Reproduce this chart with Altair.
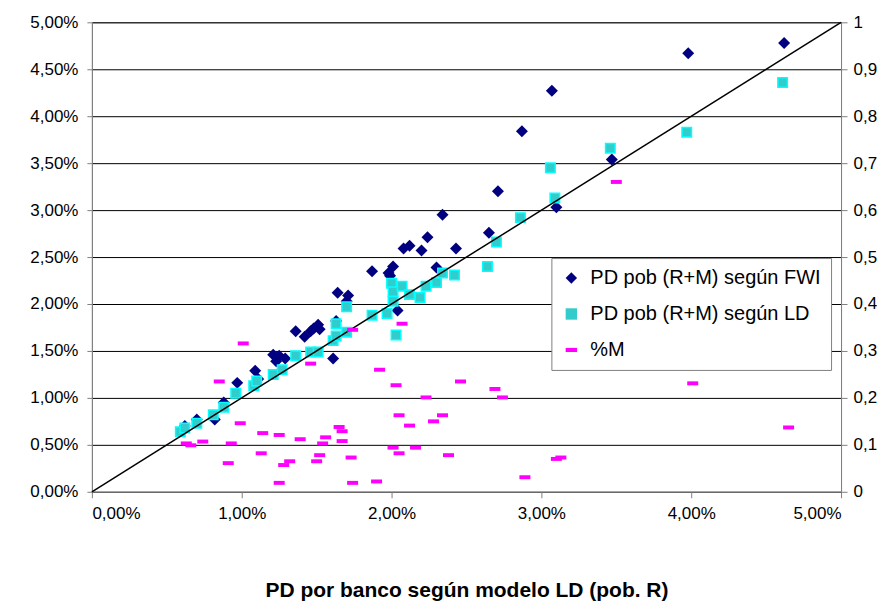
import altair as alt
import pandas as pd

# ---- data (x in %, left y in %, %M on 0..1 right axis) ----
fwi_x = [0.62, 0.70, 0.82, 0.88, 0.97, 1.09, 1.11, 1.21, 1.23, 1.25, 1.29, 1.36, 1.42, 1.46,
         1.48, 1.51, 1.52, 1.61, 1.63, 1.64, 1.71, 1.70, 1.87, 1.98, 2.01, 1.99, 2.04, 2.08,
         2.12, 2.20, 2.24, 2.34, 2.30, 2.43, 2.65, 2.71, 2.87, 3.07, 3.47, 3.10, 3.98, 4.62]
fwi_y = [0.70, 0.77, 0.77, 0.95, 1.16, 1.29, 1.20, 1.46, 1.39, 1.45, 1.42, 1.71, 1.65, 1.71,
         1.74, 1.78, 1.73, 1.42, 1.82, 2.12, 2.09, 2.03, 2.35, 2.33, 2.40, 2.30, 1.93, 2.59,
         2.62, 2.57, 2.71, 2.95, 2.39, 2.59, 2.76, 3.20, 3.84, 4.27, 3.54, 3.03, 4.67, 4.78]

ld_x = [0.59, 0.62, 0.70, 0.81, 0.88, 0.96, 1.08, 1.10, 1.21, 1.27, 1.36, 1.46, 1.51, 1.61,
        1.63, 1.70, 1.63, 1.70, 1.87, 1.97, 2.00, 2.01, 2.01, 2.07, 2.12, 2.19, 2.03, 2.23,
        2.30, 2.34, 2.42, 2.64, 2.70, 2.86, 3.06, 3.09, 3.46, 3.97, 4.61]
ld_y = [0.64, 0.68, 0.73, 0.82, 0.90, 1.05, 1.13, 1.18, 1.25, 1.30, 1.45, 1.49, 1.49, 1.61,
        1.66, 1.70, 1.79, 1.97, 1.88, 1.90, 2.22, 2.13, 2.03, 2.19, 2.10, 2.07, 1.67, 2.19,
        2.23, 2.33, 2.31, 2.40, 2.66, 2.92, 3.45, 3.13, 3.66, 3.83, 4.36]

m_x = [1.01, 0.85, 0.99, 1.14, 1.25, 0.63, 0.66, 0.74, 0.93, 1.13, 0.91, 1.28, 1.32, 1.25,
       1.74, 1.46, 2.07, 1.92, 2.03, 2.46, 2.23, 2.69, 2.74, 1.39, 1.56, 1.54, 1.65, 1.67,
       1.67, 2.05, 2.12, 2.28, 2.34, 2.01, 2.05, 2.16, 2.38, 1.52, 1.50, 1.73, 1.74, 1.90,
       3.50, 3.10, 3.13, 2.89, 4.01, 4.65]
m_y = [0.316, 0.235, 0.146, 0.125, 0.121, 0.103, 0.099, 0.107, 0.103, 0.082, 0.061, 0.057,
       0.065, 0.019, 0.345, 0.273, 0.358, 0.260, 0.227, 0.235, 0.201, 0.219, 0.201, 0.112,
       0.116, 0.103, 0.138, 0.129, 0.108, 0.163, 0.141, 0.150, 0.163, 0.094, 0.082, 0.094,
       0.078, 0.078, 0.065, 0.073, 0.019, 0.022, 0.660, 0.070, 0.073, 0.031, 0.231, 0.137]

diag_x = [0.0, 5.0]
diag_y = [0.0, 5.0]

series = ["PD pob (R+M) según FWI", "PD pob (R+M) según LD", "%M"]
colors = ["#000080", "#33CCCC", "#FF00FF"]
shapes = ["diamond", "square", "M-1,-0.36L1,-0.36L1,0.36L-1,0.36Z"]

x_ticks = [0, 1, 2, 3, 4, 5]
y_ticks = [0, 0.5, 1, 1.5, 2, 2.5, 3, 3.5, 4, 4.5, 5]
r_ticks = [0, 0.1, 0.2, 0.3, 0.4, 0.5, 0.6, 0.7, 0.8, 0.9, 1]

df_fwi = pd.DataFrame({"x": fwi_x, "y": fwi_y, "serie": series[0]})
df_ld = pd.DataFrame({"x": ld_x, "y": ld_y, "serie": series[1]})
df_m = pd.DataFrame({"x": m_x, "m": m_y, "serie": series[2]})
df_diag = pd.DataFrame({"x": diag_x, "y": diag_y})

FONT = "Liberation Sans"
pct_expr = "replace(format(datum.value, '.2f'), '.', ',') + '%'"

legend = alt.Legend(
    title=None, orient="none", legendX=460, legendY=236,
    fillColor="white", strokeColor="#808080", padding=10,
    labelFontSize=20, labelFont=FONT, labelColor="black", labelLimit=500,
    symbolSize=130, rowPadding=16, labelOffset=9,
)
color_enc = alt.Color("serie:N", scale=alt.Scale(domain=series, range=colors), legend=legend)
shape_enc = alt.Shape("serie:N", scale=alt.Scale(domain=series, range=shapes), legend=legend)

x_scale = alt.Scale(domain=[0, 5], nice=False, zero=True)
x_axis = alt.Axis(values=x_ticks, labelExpr=pct_expr, grid=False,
                  title="PD por banco según modelo LD (pob. R)",
                  titleFont=FONT, titleFontSize=21, titleFontWeight="bold", titleColor="black",
                  titlePadding=58, tickSize=6, labelPadding=8)
x_main = alt.X("x:Q", scale=x_scale, axis=x_axis)
y_left = alt.Y(
    "y:Q", scale=alt.Scale(domain=[0, 5], nice=False, zero=True),
    axis=alt.Axis(values=y_ticks, labelExpr=pct_expr, grid=True, gridColor="black",
                  gridWidth=1, title=None, tickSize=5, labelPadding=9),
)

fwi = alt.Chart(df_fwi).mark_point(filled=True, size=144, opacity=1).encode(
    x=x_main, y=y_left, color=color_enc, shape=shape_enc)
ld = alt.Chart(df_ld).mark_point(filled=True, size=90, opacity=1, stroke="#00FFFF",
                                 strokeWidth=1.5).encode(
    x=x_main, y=y_left, color=color_enc, shape=shape_enc)
diag = alt.Chart(df_diag).mark_line(color="black", strokeWidth=1.5).encode(
    x=x_main, y=y_left)

left = alt.layer(fwi, ld, diag)

right = alt.Chart(df_m).mark_point(filled=True, size=121, opacity=1).encode(
    x=x_main,
    y=alt.Y("m:Q", scale=alt.Scale(domain=[0, 1], nice=False, zero=True),
            axis=alt.Axis(orient="right", values=r_ticks,
                          labelExpr="replace(format(datum.value, '~g'), '.', ',')",
                          grid=False, title=None, tickSize=6, labelPadding=6)),
    color=color_enc, shape=shape_enc,
)

chart = (
    alt.layer(left, right)
    .resolve_scale(y="independent")
    .properties(width=750, height=470,
                padding={"left": 21, "top": 5, "right": 5, "bottom": 5},
                background="white")
    .configure_view(stroke="#808080", strokeWidth=1)
    .configure_axis(labelFont=FONT, labelFontSize=17, labelColor="black",
                    domainColor="#808080", tickColor="#808080", domainWidth=1)
)

chart.save("out.html", embed_options={"renderer": "svg", "actions": False})
